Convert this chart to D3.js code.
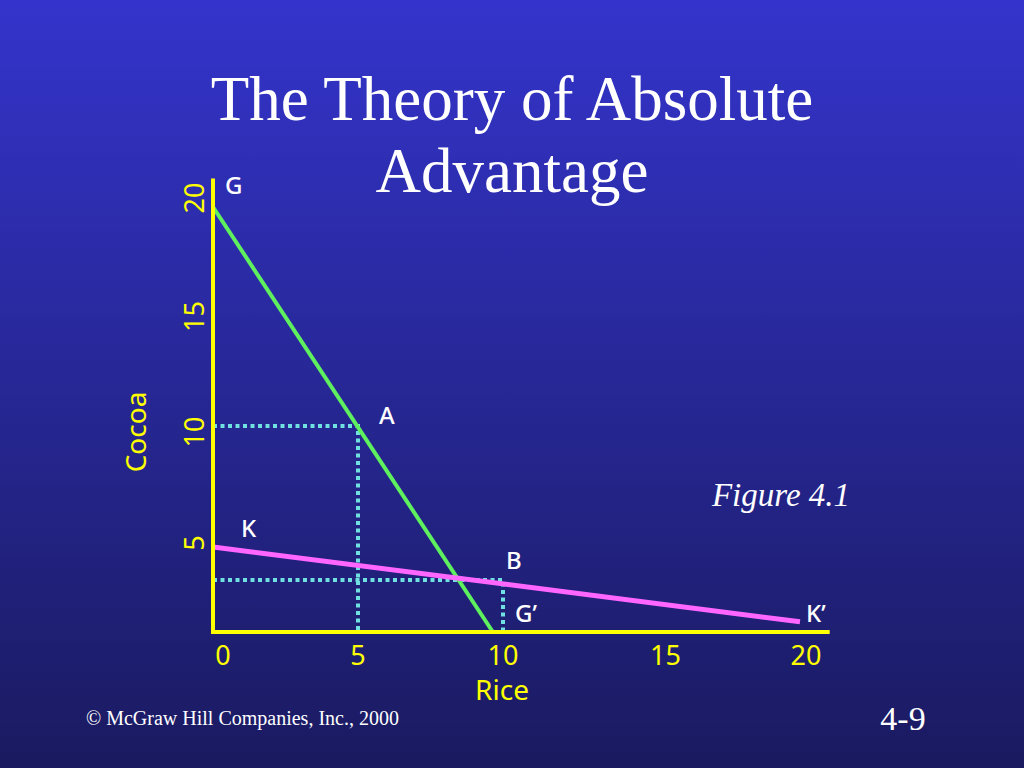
<!DOCTYPE html>
<html><head><meta charset="utf-8">
<script src="https://cdn.jsdelivr.net/npm/d3@7"></script>
<style>html,body{margin:0;padding:0;background:#1b1b66;}svg{display:block;}</style>
</head><body>
<script>
// ---- data ----
const xTicks = [0, 5, 10, 15, 20];
const yTicks = [5, 10, 15, 20];
const lineG = [[0, 20], [9.65, 0]];
const lineK = [[0, 5], [20, 0.6]];
const pointA = [5, 10];
const pointB = [10, 3.06];
const pointLabels = [
  {t: "G", x: 0, y: 20, dx: 12, dy: -13},
  {t: "A", x: 5, y: 10, dx: 21, dy: -2},
  {t: "K", x: 0, y: 5, dx: 28, dy: -10},
  {t: "B", x: 10, y: 3.06, dx: 3, dy: -11},
  {t: "G\u2019", x: 10, y: 0, dx: 12, dy: -10},
  {t: "K\u2019", x: 20, y: 0.6, dx: 6, dy: 0}
];

const W = 1024, H = 768;
const svg = d3.select("body").append("svg").attr("width", W).attr("height", H);
const defs = svg.append("defs");
const grad = defs.append("linearGradient").attr("id", "bg").attr("x1", 0).attr("y1", 0).attr("x2", 0).attr("y2", 1);
grad.append("stop").attr("offset", "0%").attr("stop-color", "#3434cc");
grad.append("stop").attr("offset", "100%").attr("stop-color", "#1a1a60");
svg.append("rect").attr("width", W).attr("height", H).attr("fill", "url(#bg)");

const x = d3.scaleLinear().domain([0, 10, 20]).range([213, 503, 800]);
const y = d3.scaleLinear().domain([0, 5, 10, 20]).range([632, 547, 426, 207]);

const serif = "'Liberation Serif','Times New Roman',Times,serif";
const sans = "'Comic Sans MS','Noto Sans','DejaVu Sans',sans-serif";

// title
svg.append("text").attr("x", 512).attr("y", 120).attr("text-anchor", "middle")
  .attr("font-family", serif).attr("font-size", 63).attr("fill", "#fff").text("The Theory of Absolute");
svg.append("text").attr("x", 512).attr("y", 192).attr("text-anchor", "middle")
  .attr("font-family", serif).attr("font-size", 63).attr("fill", "#fff").text("Advantage");

// dotted guides
const line = d3.line().x(d => x(d[0])).y(d => y(d[1]));
const dotStyle = g => g.attr("fill", "none").attr("stroke", "#70e0e0").attr("stroke-width", 4).attr("stroke-dasharray", "4 3.5");
svg.append("path").attr("d", line([[0, pointA[1]], pointA, [pointA[0], 0]])).call(dotStyle);
svg.append("path").attr("d", line([[0, pointB[1]], pointB, [pointB[0], 0]])).call(dotStyle);

// PPF lines
svg.append("path").attr("d", line(lineG)).attr("fill", "none").attr("stroke", "#5ef05e").attr("stroke-width", 4);
svg.append("path").attr("d", line(lineK)).attr("fill", "none").attr("stroke", "#ff66ff").attr("stroke-width", 5);

// axes
svg.append("line").attr("x1", x(0)).attr("x2", x(0)).attr("y1", y(21.3)).attr("y2", y(0) + 2)
  .attr("stroke", "#ffff00").attr("stroke-width", 4);
svg.append("line").attr("x1", x(0) - 2).attr("x2", x(21)).attr("y1", y(0)).attr("y2", y(0))
  .attr("stroke", "#ffff00").attr("stroke-width", 4);

// tick labels
svg.selectAll(".xt").data(xTicks).join("text").attr("class", "xt")
  .attr("x", d => x(d) + (d === 0 ? 10 : d === 15 ? 14 : d === 20 ? 6 : 0)).attr("y", 665)
  .attr("text-anchor", "middle").attr("font-family", sans).attr("font-size", 27).attr("fill", "#ffff00")
  .text(d => d);
svg.selectAll(".yt").data(yTicks).join("text").attr("class", "yt")
  .attr("transform", d => `translate(204,${y(d) + (d === 5 ? -4 : d === 10 ? 6 : d === 20 ? -9 : 0)}) rotate(-90)`)
  .attr("text-anchor", "middle").attr("font-family", sans).attr("font-size", 27).attr("fill", "#ffff00")
  .text(d => d);

// axis titles
svg.append("text").attr("x", 502).attr("y", 700).attr("text-anchor", "middle")
  .attr("font-family", sans).attr("font-size", 28).attr("fill", "#ffff00").text("Rice");
svg.append("text").attr("transform", "translate(146,432) rotate(-90)").attr("text-anchor", "middle")
  .attr("font-family", sans).attr("font-size", 28).attr("fill", "#ffff00").text("Cocoa");

// point labels
svg.selectAll(".pl").data(pointLabels).join("text").attr("class", "pl")
  .attr("x", d => x(d.x) + d.dx).attr("y", d => y(d.y) + d.dy)
  .attr("font-family", sans).attr("font-size", 24).attr("font-weight", 500).attr("fill", "#fff").text(d => d.t);

// figure caption
svg.append("text").attr("x", 781).attr("y", 506).attr("text-anchor", "middle")
  .attr("font-family", serif).attr("font-style", "italic").attr("font-size", 33).attr("fill", "#fff").text("Figure 4.1");

// footer
svg.append("text").attr("x", 86).attr("y", 725).attr("font-family", serif).attr("font-size", 20)
  .attr("fill", "#fff").text("\u00a9 McGraw Hill Companies, Inc., 2000");
svg.append("text").attr("x", 903).attr("y", 730).attr("text-anchor", "middle").attr("font-family", serif)
  .attr("font-size", 34).attr("fill", "#fff").text("4-9");
</script>
</body></html>
